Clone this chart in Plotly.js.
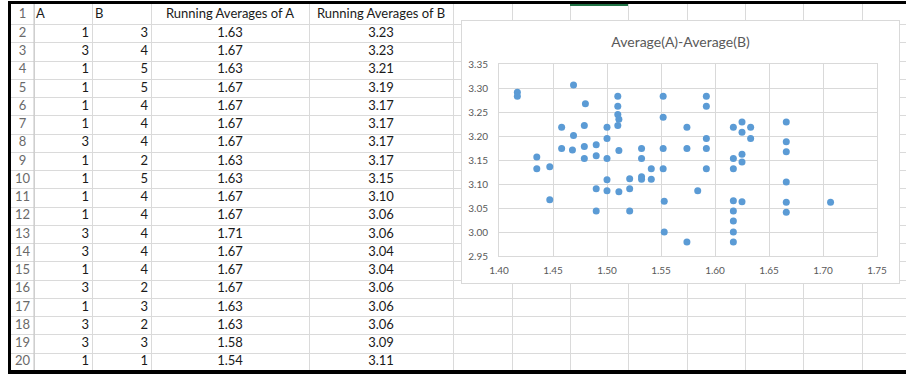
<!DOCTYPE html>
<html>
<head>
<meta charset="utf-8">
<script src="https://cdn.plot.ly/plotly-3.0.1.min.js"></script>
<style>
  html, body { margin: 0; padding: 0; background: #fff; }
  #sheet { position: absolute; left: 0; top: 0; width: 906px; height: 374px; }
  #frameLeft { position: absolute; left: 8px; top: 1px; width: 3px; height: 373px; background: #000; }
  #frameTop { position: absolute; left: 8px; top: 1px; width: 898px; height: 3px; background: #000; }
  #frameBottom { position: absolute; left: 8px; top: 370px; width: 898px; height: 4px; background: #000; }
  #activeCol { position: absolute; left: 570px; top: 4px; width: 58px; height: 2px; background: #217346; }
  #chartFrame { position: absolute; left: 461px; top: 20px; width: 437px; height: 262px;
                border: 1px solid #d9d9d9; background: #fff; }
  #chart { width: 437px; height: 262px; }
</style>
</head>
<body>
<div id="sheet"></div>
<div id="frameLeft"></div>
<div id="frameTop"></div>
<div id="frameBottom"></div>
<div id="activeCol"></div>
<div id="chartFrame"><div id="chart"></div></div>
<script>
// ---- worksheet contents ----
const headerRow = ['A', 'B', 'Running Averages of A', 'Running Averages of B'];
const rowLabels = ['1','2','3','4','5','6','7','8','9','10','11','12','13','14','15','16','17','18','19','20'];
const colA = [1, 3, 1, 1, 1, 1, 3, 1, 1, 1, 1, 3, 3, 1, 3, 1, 3, 3, 1];
const colB = [3, 4, 5, 5, 4, 4, 4, 2, 5, 4, 4, 4, 4, 4, 2, 3, 2, 3, 1];
const runningA = [1.63, 1.67, 1.63, 1.67, 1.67, 1.67, 1.67, 1.63, 1.63, 1.67, 1.67, 1.71, 1.67, 1.67, 1.67, 1.63, 1.63, 1.58, 1.54];
const runningB = [3.23, 3.23, 3.21, 3.19, 3.17, 3.17, 3.17, 3.17, 3.15, 3.10, 3.06, 3.06, 3.04, 3.04, 3.06, 3.06, 3.06, 3.09, 3.11];

// ---- scatter chart series ----
const avgA = [1.417, 1.417, 1.469, 1.480, 1.510, 1.510, 1.510, 1.511, 1.510, 1.458,
              1.479, 1.500, 1.469, 1.500, 1.458, 1.468, 1.479, 1.490, 1.511, 1.532,
              1.435, 1.479, 1.490, 1.500, 1.532, 1.435, 1.447, 1.447, 1.490, 1.500,
              1.500, 1.511, 1.521, 1.521, 1.532, 1.532, 1.541, 1.490, 1.521, 1.552,
              1.592, 1.592, 1.552, 1.574, 1.592, 1.617, 1.625, 1.633, 1.625, 1.633,
              1.552, 1.574, 1.592, 1.625, 1.617, 1.625, 1.541, 1.552, 1.592, 1.617,
              1.584, 1.553, 1.617, 1.625, 1.617, 1.617, 1.553, 1.617, 1.574, 1.617,
              1.666, 1.666, 1.666, 1.666, 1.666, 1.707, 1.666];
const avgB = [3.291, 3.283, 3.306, 3.267, 3.283, 3.262, 3.245, 3.235, 3.222, 3.218,
              3.222, 3.218, 3.201, 3.195, 3.174, 3.171, 3.178, 3.182, 3.170, 3.174,
              3.156, 3.153, 3.159, 3.153, 3.153, 3.132, 3.136, 3.067, 3.090, 3.109,
              3.086, 3.084, 3.090, 3.111, 3.115, 3.110, 3.110, 3.044, 3.044, 3.283,
              3.283, 3.262, 3.239, 3.218, 3.195, 3.218, 3.229, 3.218, 3.208, 3.195,
              3.174, 3.174, 3.174, 3.162, 3.153, 3.146, 3.132, 3.132, 3.132, 3.132,
              3.086, 3.064, 3.065, 3.063, 3.044, 3.023, 3.000, 3.000, 2.979, 2.979,
              3.229, 3.188, 3.167, 3.104, 3.062, 3.062, 3.041];

// ---- worksheet grid geometry (page pixels) ----
const colEdges = [11, 34, 92, 151, 309, 453, 512, 570, 628, 687, 745, 803, 862];
const firstRowTop = 4, headerBottom = 24.5, rowHeight = 18.25;
const rowEdges = [firstRowTop];
for (let i = 0; i < 20; i++) rowEdges.push(headerBottom + rowHeight * i);
const rowCenter = i => (rowEdges[i] + rowEdges[i + 1]) / 2;   // i = 0 is header row
const colMid = c => (colEdges[c] + colEdges[c + 1]) / 2;

const cellFont = { family: 'Lato, sans-serif', size: 13, color: '#1a1a1a' };
const dataRowsY = colA.map((_, i) => rowCenter(i + 1));

function textTrace(xs, ys, texts, position, font) {
  return { type: 'scatter', mode: 'text', x: xs, y: ys, text: texts,
           textposition: position, textfont: font, hoverinfo: 'skip', showlegend: false, cliponaxis: false };
}

const sheetTraces = [
  // row headers
  textTrace(rowLabels.map(() => colMid(0)), rowLabels.map((_, i) => rowCenter(i)), rowLabels,
            'middle center', Object.assign({}, cellFont, { color: '#6a6a6a' })),
  // header row text
  textTrace([colEdges[1] + 2, colEdges[2] + 3], [rowCenter(0), rowCenter(0)], headerRow.slice(0, 2),
            'middle right', cellFont),
  textTrace([colMid(3), colMid(4)], [rowCenter(0), rowCenter(0)], headerRow.slice(2),
            'middle center', cellFont),
  // numeric columns (right aligned inside their cells)
  textTrace(colA.map(() => colEdges[2] - 3), dataRowsY, colA.map(String), 'middle left', cellFont),
  textTrace(colB.map(() => colEdges[3] - 3), dataRowsY, colB.map(String), 'middle left', cellFont),
  textTrace(runningA.map(() => colMid(3)), dataRowsY, runningA.map(v => v.toFixed(2)), 'middle center', cellFont),
  textTrace(runningB.map(() => colMid(4)), dataRowsY, runningB.map(v => v.toFixed(2)), 'middle center', cellFont)
];

const sheetLayout = {
  width: 906, height: 374,
  margin: { l: 11, r: 0, t: 4, b: 0, pad: 0 },
  paper_bgcolor: '#ffffff', plot_bgcolor: '#ffffff',
  showlegend: false,
  xaxis: { range: [11, 906], tickmode: 'array', tickvals: colEdges, showticklabels: false, ticks: '',
           showgrid: true, gridcolor: '#dadada', gridwidth: 1, zeroline: false, showline: false, fixedrange: true },
  yaxis: { range: [374, 4], tickmode: 'array', tickvals: rowEdges, showticklabels: false, ticks: '',
           showgrid: true, gridcolor: '#dadada', gridwidth: 1, zeroline: false, showline: false, fixedrange: true },
  shapes: [
    { type: 'line', xref: 'x', yref: 'y', x0: colEdges[1], x1: colEdges[1], y0: 4, y1: 374,
      line: { color: '#c4c4c4', width: 1 } }
  ]
};

Plotly.newPlot('sheet', sheetTraces, sheetLayout, { staticPlot: true, displayModeBar: false });

// ---- scatter chart ----
const tickFont = { family: 'Lato, sans-serif', size: 10, color: '#595959' };
const chartTraces = [{
  type: 'scatter', mode: 'markers', x: avgA, y: avgB,
  marker: { color: '#5b9bd5', size: 7 }, showlegend: false
}];

const chartLayout = {
  width: 437, height: 262,
  margin: { l: 37, r: 22, t: 43, b: 27, pad: 0 },
  paper_bgcolor: '#ffffff', plot_bgcolor: '#ffffff',
  title: { text: 'Average(A)-Average(B)', font: { family: 'Lato, sans-serif', size: 14, color: '#595959' },
           x: 0.5, xanchor: 'center', xref: 'container', y: 1 - 21 / 262, yanchor: 'middle', yref: 'container' },
  xaxis: { range: [1.40, 1.75], tick0: 1.40, dtick: 0.05, tickformat: '.2f', tickfont: tickFont,
           showgrid: true, gridcolor: '#d9d9d9', showline: true, linecolor: '#d9d9d9', mirror: true,
           zeroline: false, ticks: '', ticklabelstandoff: 5, fixedrange: true },
  yaxis: { range: [2.95, 3.35], tick0: 2.95, dtick: 0.05, tickformat: '.2f', tickfont: tickFont,
           showgrid: true, gridcolor: '#d9d9d9', showline: true, linecolor: '#d9d9d9', mirror: true,
           zeroline: false, ticks: '', ticklabelstandoff: 8, fixedrange: true }
};

Plotly.newPlot('chart', chartTraces, chartLayout, { staticPlot: true, displayModeBar: false });
</script>
</body>
</html>
